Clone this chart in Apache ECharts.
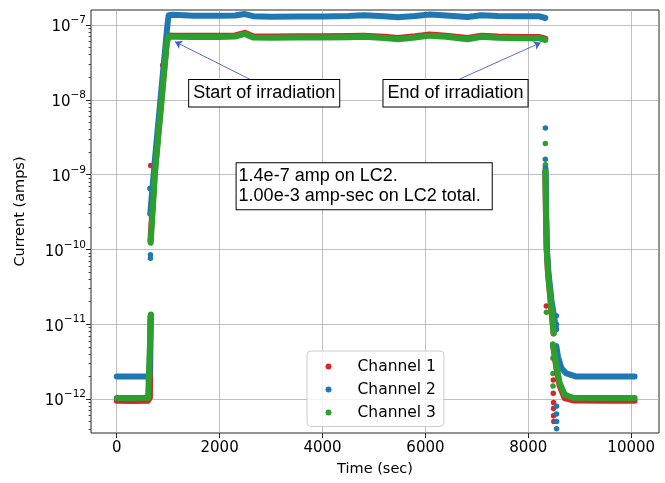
<!DOCTYPE html>
<html>
<head>
<meta charset="utf-8">
<script src="https://cdn.jsdelivr.net/npm/echarts@6/dist/echarts.min.js"></script>
<style>
  html, body { margin: 0; padding: 0; background: #fff; }
  #chart { width: 665px; height: 483px; }
</style>
</head>
<body>
<div id="chart"></div>
<script>
// tick positions
const xTicks = [0, 2000, 4000, 6000, 8000, 10000];
const yTicks = [1e-12, 1e-11, 1e-10, 1e-9, 1e-8, 1e-7];

// Channel 1 (red): [time sec, current amps], one array per unbroken run of points
const ch1Start = [[0, 0.95e-12], [300, 0.94e-12], [610, 0.95e-12], [645, 1.05e-12], [660, 1.3e-11]];
const ch1Plateau = [[655, 1.3e-10], [740, 1.1e-9], [870, 1.05e-8], [970, 5.7e-8], [1005, 7.25e-8], [1100, 7.2e-8],
  [1500, 7.15e-8], [2000, 7.15e-8], [2300, 7.25e-8], [2490, 7.85e-8], [2650, 7.05e-8], [3000, 7.0e-8], [3500, 7.05e-8],
  [4000, 7.05e-8], [4500, 7.1e-8], [4800, 7.2e-8], [5200, 6.95e-8], [5466, 6.7e-8], [5800, 7.05e-8], [6087, 7.45e-8],
  [6400, 7.2e-8], [6822, 6.7e-8], [7088, 7.2e-8], [7400, 7.0e-8], [7800, 6.9e-8], [8200, 6.9e-8], [8330, 6.55e-8]];
const ch1Decay = [[8331, 1.1e-9], [8345, 2.4e-10], [8357, 1.0e-10], [8383, 4.8e-11], [8434, 2.0e-11], [8490, 7.5e-12]];
const ch1Tail = [[8480, 5.2e-12], [8500, 4.3e-12], [8545, 2.6e-12], [8609, 1.5e-12], [8706, 1.03e-12], [8868, 0.96e-12],
  [9500, 0.95e-12], [10066, 0.95e-12]];
const ch1Dots = [[660, 1.32e-9], [893, 2.9e-8], [8331, 1.3e-9], [8350, 1.75e-11], [8485, 1.8e-12], [8485, 1.2e-12],
  [8490, 9e-13], [8490, 7.5e-13], [8490, 6e-13], [8495, 5e-13]];

// Channel 2 (blue)
const ch2Start = [[0, 2.0e-12], [300, 2.0e-12], [585, 2.0e-12], [640, 2.05e-12], [658, 1.25e-11]];
const ch2Plateau = [[652, 3.0e-10], [735, 1.4e-9], [865, 1.3e-8], [985, 1.0e-7], [1010, 1.35e-7], [1040, 1.42e-7],
  [1100, 1.37e-7], [1500, 1.33e-7], [2000, 1.33e-7], [2300, 1.34e-7], [2490, 1.40e-7], [2650, 1.31e-7], [3000, 1.29e-7],
  [3500, 1.30e-7], [4000, 1.30e-7], [4500, 1.32e-7], [4800, 1.35e-7], [5200, 1.31e-7], [5466, 1.27e-7], [5800, 1.32e-7],
  [6087, 1.38e-7], [6400, 1.34e-7], [6822, 1.28e-7], [7088, 1.35e-7], [7400, 1.32e-7], [7800, 1.31e-7], [8200, 1.31e-7],
  [8330, 1.24e-7]];
const ch2Decay = [[8335, 1.2e-9], [8350, 2.5e-10], [8362, 1.0e-10], [8392, 4.9e-11], [8450, 2.1e-11], [8540, 8.5e-12]];
const ch2Tail = [[8545, 5.1e-12], [8576, 3.7e-12], [8642, 2.6e-12], [8739, 2.2e-12], [8933, 2.0e-12], [9500, 2.0e-12],
  [10066, 2.0e-12]];
const ch2Dots = [[645, 6.5e-10], [655, 8.5e-11], [655, 7.6e-11], [8331, 4.2e-9], [8331, 1.6e-9], [8545, 1.3e-11],
  [8545, 1.0e-11], [8548, 8e-13], [8548, 6.3e-13], [8550, 5e-13], [8550, 4e-13]];

// Channel 3 (green)
const ch3Start = [[0, 1.03e-12], [300, 1.03e-12], [610, 1.04e-12], [645, 1.1e-12], [665, 1.35e-11]];
const ch3Plateau = [[660, 1.23e-10], [744, 1.05e-9], [874, 1.0e-8], [970, 5.5e-8], [1005, 7.0e-8], [1100, 6.95e-8],
  [1500, 6.9e-8], [2000, 6.9e-8], [2300, 7.0e-8], [2490, 7.6e-8], [2650, 6.8e-8], [3000, 6.75e-8], [3500, 6.8e-8],
  [4000, 6.8e-8], [4500, 6.85e-8], [4800, 6.95e-8], [5200, 6.7e-8], [5466, 6.45e-8], [5800, 6.8e-8], [6087, 7.2e-8],
  [6400, 6.95e-8], [6822, 6.45e-8], [7088, 6.95e-8], [7400, 6.75e-8], [7800, 6.65e-8], [8200, 6.65e-8], [8330, 6.3e-8]];
const ch3Decay = [[8331, 1.1e-9], [8345, 2.5e-10], [8357, 1.0e-10], [8383, 4.9e-11], [8434, 2.1e-11], [8493, 7.6e-12]];
const ch3Tail = [[8480, 5.4e-12], [8500, 4.5e-12], [8545, 2.8e-12], [8609, 1.65e-12], [8706, 1.15e-12], [8868, 1.04e-12],
  [9500, 1.03e-12], [10066, 1.03e-12]];
const ch3Dots = [[8331, 2.6e-9], [8333, 1.35e-9], [8352, 1.45e-11], [8478, 3.5e-12], [8478, 2.2e-12], [8480, 1.5e-12]];

// annotations: text box anchors and arrows [from, to]
const startNote = [2866, 1.22e-8];
const endNote = [6585, 1.22e-8];
const infoNote = [2330, 7.0e-10];
const startArrow = [[2608, 1.85e-8], [1132, 5.98e-8]];
const endArrow = [[6634, 1.85e-8], [8240, 5.8e-8]];

const RED = '#d62728', BLUE = '#1f77b4', GREEN = '#2ca02c';
const TICK_FONT = 'DejaVu Sans';
const NOTE_FONT = 'Liberation Sans';

// minor ticks at 2..9 x each decade
const yMinorTicks = [];
[1e-13].concat(yTicks).forEach(function (d) {
    for (let k = 2; k <= 9; k++) {
        yMinorTicks.push(k * d);
    }
});

function trace(name, color, data) {
    return {
        name: name, type: 'line', data: data, symbol: 'none', showSymbol: false,
        itemStyle: { color: color },
        lineStyle: { color: color, width: 6, cap: 'round', join: 'round' },
        silent: true
    };
}

function dots(name, color, data) {
    return {
        name: name, type: 'scatter', data: data, symbolSize: 5.5,
        itemStyle: { color: color, opacity: 1 }, silent: true
    };
}

function noteLabel(align) {
    return {
        show: true, position: 'inside', align: align, verticalAlign: 'middle',
        fontFamily: NOTE_FONT, fontSize: 18, color: '#000', lineHeight: 19.5,
        backgroundColor: '#fff', borderColor: '#000', borderWidth: 1, borderRadius: 0,
        padding: [4, 4, 3, 4]
    };
}

const chart = echarts.init(document.getElementById('chart'));

const series = [
    trace('Channel 1', RED, ch1Start), trace('Channel 1', RED, ch1Plateau),
    trace('Channel 1', RED, ch1Decay), trace('Channel 1', RED, ch1Tail), dots('Channel 1', RED, ch1Dots),
    trace('Channel 2', BLUE, ch2Start), trace('Channel 2', BLUE, ch2Plateau),
    trace('Channel 2', BLUE, ch2Decay), trace('Channel 2', BLUE, ch2Tail), dots('Channel 2', BLUE, ch2Dots),
    trace('Channel 3', GREEN, ch3Start), trace('Channel 3', GREEN, ch3Plateau),
    trace('Channel 3', GREEN, ch3Decay), trace('Channel 3', GREEN, ch3Tail), dots('Channel 3', GREEN, ch3Dots),
    {
        name: 'notes', type: 'scatter', data: [], silent: true, z: 5,
        markLine: {
            silent: true, animation: false,
            symbol: ['none', 'arrow'], symbolSize: 7,
            lineStyle: { color: '#3f5fcf', width: 0.9, type: 'solid' },
            label: { show: false },
            data: [
                [{ coord: startArrow[0] }, { coord: startArrow[1] }],
                [{ coord: endArrow[0] }, { coord: endArrow[1] }]
            ]
        },
        markPoint: {
            silent: true, animation: false, symbol: 'rect', symbolSize: 0,
            data: [
                { coord: startNote, label: Object.assign(noteLabel('center'), { formatter: 'Start of irradiation' }) },
                { coord: endNote, label: Object.assign(noteLabel('center'), { formatter: 'End of irradiation' }) },
                {
                    coord: infoNote,
                    label: Object.assign(noteLabel('left'), {
                        formatter: '1.4e-7 amp on LC2.\n1.00e-3 amp-sec on LC2 total.',
                        padding: [4, 11, 3, 2]
                    })
                }
            ]
        }
    }
];

const options = {
    animation: false,
    grid: {
        left: 91, right: 6, top: 10, bottom: 50,
        show: true, borderColor: '#262626', borderWidth: 1, backgroundColor: 'transparent'
    },
    legend: {
        data: [
            { name: 'Channel 1', icon: 'circle' },
            { name: 'Channel 2', icon: 'circle' },
            { name: 'Channel 3', icon: 'circle' }
        ],
        orient: 'vertical', left: 307, top: 351,
        itemWidth: 6, itemHeight: 6, itemGap: 5,
        padding: [6.5, 8, 5, 18.5],
        backgroundColor: 'rgba(255,255,255,0.8)', borderColor: '#cccccc', borderWidth: 1, borderRadius: 4,
        textStyle: { fontFamily: TICK_FONT, fontSize: 15.5, color: '#000', lineHeight: 18, padding: [0, 0, 0, 21] }
    },
    xAxis: {
        type: 'value', min: -500, max: 10540,
        name: 'Time (sec)', nameLocation: 'middle', nameGap: 29,
        nameTextStyle: { fontFamily: TICK_FONT, fontSize: 14.5, color: '#000' },
        axisLine: { show: false, onZero: false },
        axisTick: { show: true, length: 5, customValues: xTicks, lineStyle: { color: '#262626', width: 1 } },
        axisLabel: {
            customValues: xTicks, margin: 8, fontFamily: TICK_FONT, fontSize: 15, color: '#000',
            formatter: function (value) { return String(value); }
        },
        splitLine: { show: true, lineStyle: { color: '#b0b0b0', width: 0.8 } }
    },
    yAxis: [{
        type: 'log', min: 3.52e-13, max: 1.585e-7,
        name: 'Current (amps)', nameLocation: 'middle', nameGap: 63,
        nameTextStyle: { fontFamily: TICK_FONT, fontSize: 14.5, color: '#000', padding: [0, 0, 0, 20] },
        axisLine: { show: false, onZero: false },
        axisTick: { show: true, length: 5, customValues: yTicks, lineStyle: { color: '#262626', width: 1 } },
        axisLabel: {
            customValues: yTicks, margin: 5,
            formatter: function (value) {
                const e = Math.round(Math.log10(value));
                return '{b|10}{s|\u2212' + Math.abs(e) + '}';
            },
            rich: {
                b: { fontFamily: TICK_FONT, fontSize: 15, color: '#000', lineHeight: 20, verticalAlign: 'bottom' },
                s: { fontFamily: TICK_FONT, fontSize: 10.5, color: '#000', lineHeight: 10, verticalAlign: 'top' }
            }
        },
        splitLine: { show: true, lineStyle: { color: '#b0b0b0', width: 0.8 } }
    }, {
        // minor ticks only
        type: 'log', min: 3.52e-13, max: 1.585e-7, position: 'left',
        axisLine: { show: false, onZero: false },
        axisTick: { show: true, length: 2.5, customValues: yMinorTicks, lineStyle: { color: '#262626', width: 0.8 } },
        axisLabel: { show: false },
        splitLine: { show: false }
    }],
    series: series
};

chart.setOption(options);
</script>
</body>
</html>
